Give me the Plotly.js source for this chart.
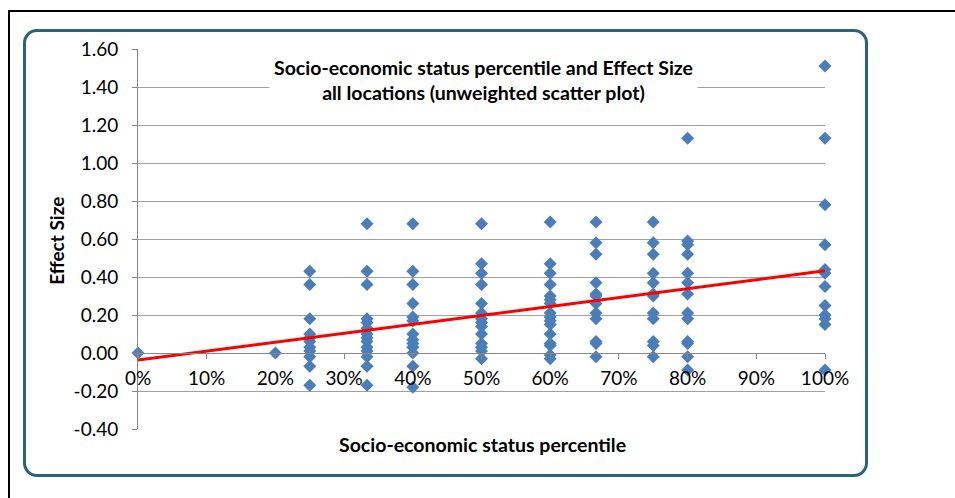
<!DOCTYPE html>
<html>
<head>
<meta charset="utf-8">
<script src="https://cdn.plot.ly/plotly-3.0.1.min.js"></script>
<style>
  html, body { margin: 0; padding: 0; background: #ffffff; }
  #outer { position: absolute; left: 8px; top: 10px; width: 1000px; height: 600px; border-left: 2px solid #000; border-top: 2px solid #000; box-sizing: border-box; }
  #box { position: absolute; left: 23px; top: 29px; width: 845px; height: 448px; border: 3px solid #2b6476; border-radius: 14px; box-sizing: border-box; }
  #chart { position: absolute; left: 0; top: 0; width: 955px; height: 498px; }
</style>
</head>
<body>
<div id="outer"></div>
<div id="box"></div>
<div id="chart"></div>
<script>
// Socio-economic status percentile (x) for each column of points
const percentiles = [0, 0.2, 0.25, 1/3, 0.4, 0.5, 0.6, 2/3, 0.75, 0.8, 1.0];

// Effect sizes per percentile column
const es0   = [0.00];
const es20  = [0.00];
const es25  = [0.43, 0.36, 0.18, 0.10, 0.08, 0.06, 0.03, 0.01, -0.02, -0.07, -0.17];
const es33  = [0.68, 0.43, 0.36, 0.18, 0.16, 0.13, 0.10, 0.08, 0.06, 0.03, 0.01, -0.02, -0.07, -0.17];
const es40  = [0.68, 0.43, 0.36, 0.26, 0.19, 0.17, 0.10, 0.07, 0.05, 0.03, 0.00, -0.07, -0.18];
const es50  = [0.68, 0.47, 0.42, 0.36, 0.26, 0.21, 0.18, 0.16, 0.14, 0.10, 0.05, 0.03, 0.01, -0.03];
const es60  = [0.69, 0.47, 0.42, 0.36, 0.30, 0.28, 0.26, 0.21, 0.19, 0.17, 0.15, 0.10, 0.05, 0.04, -0.01, -0.03];
const es67  = [0.69, 0.58, 0.52, 0.37, 0.31, 0.30, 0.26, 0.21, 0.18, 0.06, 0.05, -0.02];
const es75  = [0.69, 0.58, 0.52, 0.42, 0.37, 0.31, 0.30, 0.21, 0.18, 0.06, 0.04, -0.02];
const es80  = [1.13, 0.59, 0.57, 0.52, 0.42, 0.37, 0.31, 0.21, 0.18, 0.06, 0.05, -0.02, -0.09];
const es100 = [1.51, 1.13, 0.78, 0.57, 0.44, 0.42, 0.35, 0.25, 0.20, 0.18, 0.15, -0.09];

// Linear trendline end points
const trendX = [0, 1];
const trendY = [-0.037, 0.433];

// Tick labels
const xTickVals = [0, 0.1, 0.2, 0.3, 0.4, 0.5, 0.6, 0.7, 0.8, 0.9, 1.0];
const xTickText = ['0%', '10%', '20%', '30%', '40%', '50%', '60%', '70%', '80%', '90%', '100%'];
const yTickVals = [-0.4, -0.2, 0, 0.2, 0.4, 0.6, 0.8, 1.0, 1.2, 1.4, 1.6];
const yTickText = ['-0.40', '-0.20', '0.00', '0.20', '0.40', '0.60', '0.80', '1.00', '1.20', '1.40', '1.60'];

const columns = [es0, es20, es25, es33, es40, es50, es60, es67, es75, es80, es100];
const xs = [], ys = [];
columns.forEach((col, i) => col.forEach(v => { xs.push(percentiles[i]); ys.push(v); }));

const FONT = 'Lato, "Open Sans", sans-serif';

const traces = [
  {
    x: xs, y: ys, type: 'scatter', mode: 'markers',
    marker: { symbol: 'diamond', size: 10, color: '#4a7ebb', line: { width: 0 } },
    cliponaxis: false, showlegend: false, hoverinfo: 'skip'
  },
  {
    x: trendX, y: trendY, type: 'scatter', mode: 'lines',
    line: { color: '#ff0000', width: 3 },
    cliponaxis: false, showlegend: false, hoverinfo: 'skip'
  }
];

const layout = {
  width: 955, height: 498,
  margin: { l: 138, r: 130, t: 49, b: 69, pad: 0 },
  paper_bgcolor: 'rgba(0,0,0,0)',
  plot_bgcolor: 'rgba(0,0,0,0)',
  font: { family: FONT, color: '#000000', size: 19 },
  showlegend: false,
  xaxis: {
    range: [0, 1], autorange: false,
    anchor: 'free', position: 0.2,
    tickmode: 'array', tickvals: xTickVals, ticktext: xTickText,
    ticks: 'outside', ticklen: 5, tickcolor: '#868686', tickwidth: 1,
    showline: true, linecolor: '#868686', linewidth: 1,
    showgrid: false, zeroline: false,
    tickfont: { family: FONT, size: 19, color: '#000' },
    ticklabelstandoff: 3
  },
  yaxis: {
    range: [-0.4, 1.6], autorange: false, domain: [0, 1],
    tickmode: 'array', tickvals: yTickVals, ticktext: yTickText,
    ticks: 'outside', ticklen: 5, tickcolor: '#868686', tickwidth: 1,
    showline: true, linecolor: '#868686', linewidth: 1,
    showgrid: true, gridcolor: '#a0a0a0', gridwidth: 1,
    zeroline: false,
    tickfont: { family: FONT, size: 19, color: '#000' },
    ticklabelstandoff: 10
  },
  annotations: [
    {
      text: '<b>Socio-economic status percentile and Effect Size<br>all locations (unweighted scatter plot)</b>',
      xref: 'paper', yref: 'paper', x: 0.503, y: 0.918, xanchor: 'center', yanchor: 'middle',
      showarrow: false, bgcolor: '#ffffff', borderpad: 4,
      font: { family: FONT, size: 19.5, color: '#000' }, align: 'center'
    },
    {
      text: '<b>Effect Size</b>',
      xref: 'paper', yref: 'paper', x: -0.118, y: 0.495, xanchor: 'center', yanchor: 'middle',
      textangle: -90, showarrow: false,
      font: { family: FONT, size: 19, color: '#000' }
    },
    {
      text: '<b>Socio-economic status percentile</b>',
      xref: 'paper', yref: 'paper', x: 0.501, y: -0.04, xanchor: 'center', yanchor: 'middle',
      showarrow: false,
      font: { family: FONT, size: 19.5, color: '#000' }
    }
  ]
};

Plotly.newPlot('chart', traces, layout, { staticPlot: true, displayModeBar: false });
</script>
</body>
</html>
